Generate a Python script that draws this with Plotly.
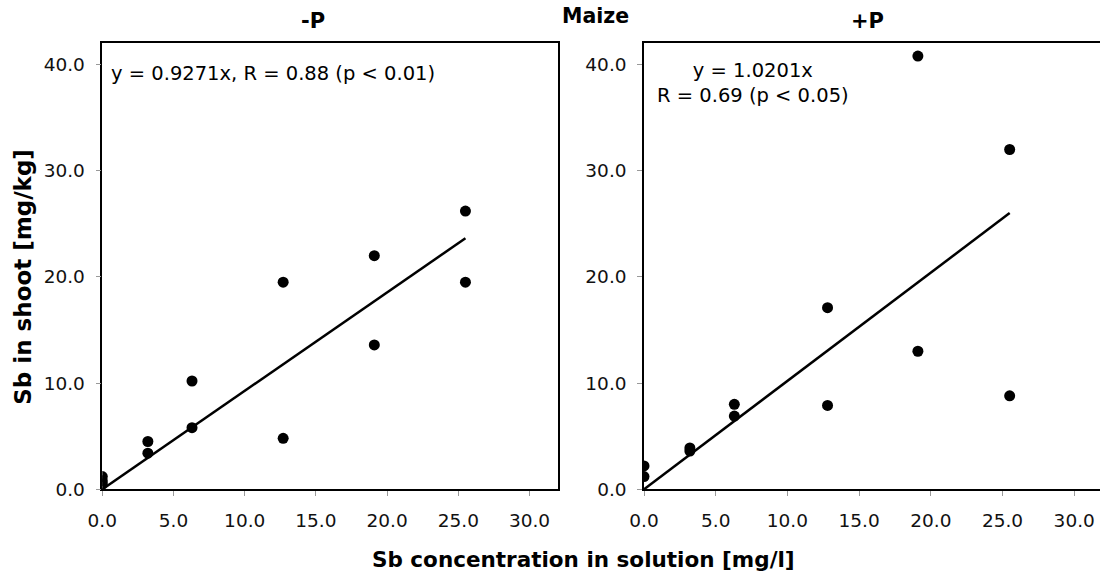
import plotly.graph_objects as go

# -P data
x_minus = [0.0, 0.0, 0.0, 3.2, 3.2, 6.3, 6.3, 12.7, 12.7, 19.1, 19.1, 25.5, 25.5]
y_minus = [1.2, 0.8, 0.5, 4.5, 3.4, 10.2, 5.8, 19.5, 4.8, 22.0, 13.6, 26.2, 19.5]
# +P data
x_plus = [0.0, 0.0, 3.2, 3.2, 6.3, 6.3, 12.8, 12.8, 19.1, 19.1, 25.5, 25.5]
y_plus = [2.2, 1.2, 3.9, 3.6, 8.0, 6.9, 17.1, 7.9, 40.8, 13.0, 32.0, 8.8]

slope_minus = 0.9271
slope_plus = 1.0201
fit_x = [0.0, 25.5]

x_ticks = [0, 5, 10, 15, 20, 25, 30]
y_ticks = [0, 10, 20, 30, 40]

W, H = 1100, 576
FONT = "DejaVu Sans"

fig = go.Figure()

fig.add_trace(go.Scatter(x=x_minus, y=y_minus, mode="markers",
                         marker=dict(color="black", size=11), xaxis="x", yaxis="y",
                         showlegend=False))
fig.add_trace(go.Scatter(x=fit_x, y=[slope_minus * v for v in fit_x], mode="lines",
                         line=dict(color="black", width=2.5), xaxis="x", yaxis="y",
                         showlegend=False))
fig.add_trace(go.Scatter(x=x_plus, y=y_plus, mode="markers",
                         marker=dict(color="black", size=11), xaxis="x2", yaxis="y2",
                         showlegend=False))
fig.add_trace(go.Scatter(x=fit_x, y=[slope_plus * v for v in fit_x], mode="lines",
                         line=dict(color="black", width=2.5), xaxis="x2", yaxis="y2",
                         showlegend=False))

ydom = [1 - 489.3 / H, 1 - 43.3 / H]
axis_common = dict(showgrid=False, zeroline=False, showline=True, linecolor="black",
                   linewidth=1.5, ticks="outside", ticklen=5, tickcolor="#999999",
                   tickfont=dict(family=FONT, size=18.5, color="#111111"),
                   tickformat=".1f", automargin=False)

fig.update_layout(
    template="none",
    width=W, height=H,
    margin=dict(l=0, r=0, t=0, b=0, pad=0),
    paper_bgcolor="white", plot_bgcolor="white",
    font=dict(family=FONT, color="black"),
    xaxis=dict(domain=[102.3 / W, 558 / W], range=[0, 32], tickvals=x_ticks,
               mirror=True, anchor="y", ticklabelstandoff=9, **axis_common),
    yaxis=dict(domain=ydom, range=[0, 42], tickvals=y_ticks, mirror=True,
               anchor="x", ticklabelstandoff=7, **axis_common),
    xaxis2=dict(domain=[644 / W, 1.0], range=[0, (1100 - 644) / 14.34],
                tickvals=x_ticks, mirror=True, anchor="y2", ticklabelstandoff=9,
                **axis_common),
    yaxis2=dict(domain=ydom, range=[0, 42], tickvals=y_ticks, mirror=False,
                anchor="x2", ticklabelstandoff=7, **axis_common),
)

def bold(size):
    return dict(family=FONT, size=size, color="black")

ann = [
    dict(text="<b>-P</b>", x=312.5 / W, y=1 - 21 / H, font=bold(21)),
    dict(text="<b>+P</b>", x=867.9 / W, y=1 - 21 / H, font=bold(21)),
    dict(text="<b>Maize</b>", x=595.9 / W, y=1 - 16 / H, font=bold(20.5)),
    dict(text="<b>Sb concentration in solution [mg/l]</b>", x=583 / W, y=1 - 559 / H, font=bold(21.5)),
    dict(text="<b>Sb in shoot [mg/kg]</b>", x=22.7 / W, y=1 - 277 / H, font=bold(23), textangle=-90),
]
for a in ann:
    fig.add_annotation(xref="paper", yref="paper", showarrow=False,
                       xanchor="center", yanchor="middle", **a)

fig.add_annotation(xref="paper", yref="paper", x=109 / W, y=1 - 73 / H, xanchor="left",
                   yanchor="middle", showarrow=False,
                   text="y = 0.9271x, R = 0.88 (p < 0.01)",
                   font=dict(family=FONT, size=19.5, color="black"))
fig.add_annotation(xref="paper", yref="paper", x=753 / W, y=1 - 83 / H, xanchor="center",
                   yanchor="middle", showarrow=False, align="center",
                   text="y = 1.0201x<br>R = 0.69 (p < 0.05)",
                   font=dict(family=FONT, size=19.5, color="black"))

fig.write_html("out.html")
